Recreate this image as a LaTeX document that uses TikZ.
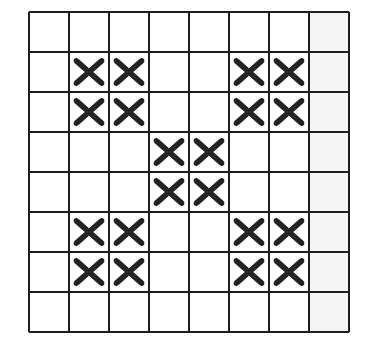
\documentclass[tikz,border=0pt]{standalone}
\usepackage{tikz}
\usetikzlibrary{shapes.misc}
\definecolor{gridline}{RGB}{30,30,30}
\definecolor{stitchc}{RGB}{35,35,35}
\tikzset{
  gridln/.style={draw=gridline, line width=1.3pt},
  shadecol/.style={fill=black!4},
  stitch/.style={cross out, draw=stitchc, line width=5.5pt, line cap=round,
                 minimum width=20pt, minimum height=17pt, inner sep=0pt}
}

\begin{document}
\begin{tikzpicture}[x=1pt, y=-1pt]
\useasboundingbox (0,0) rectangle (367,345);
\fill[shadecol] (309,12) rectangle (349,332);
% the 8 x 8 grid
\foreach \i in {0,...,8} {
  \draw[gridln] (29+40*\i,12) -- (29+40*\i,332);
  \draw[gridln] (29,12+40*\i) -- (349,12+40*\i);
}
% crosses in the four corner blocks
\foreach \r in {2,3,6,7} {
  \foreach \c in {2,3,6,7} {
    \node[stitch] (x-\r-\c) at (29+40*\c-20, 12+40*\r-20) {};
  }
}
% crosses in the centre block
\foreach \r in {4,5} {
  \foreach \c in {4,5} {
    \node[stitch] (x-\r-\c) at (29+40*\c-20, 12+40*\r-20) {};
  }
}
\end{tikzpicture}
\end{document}
